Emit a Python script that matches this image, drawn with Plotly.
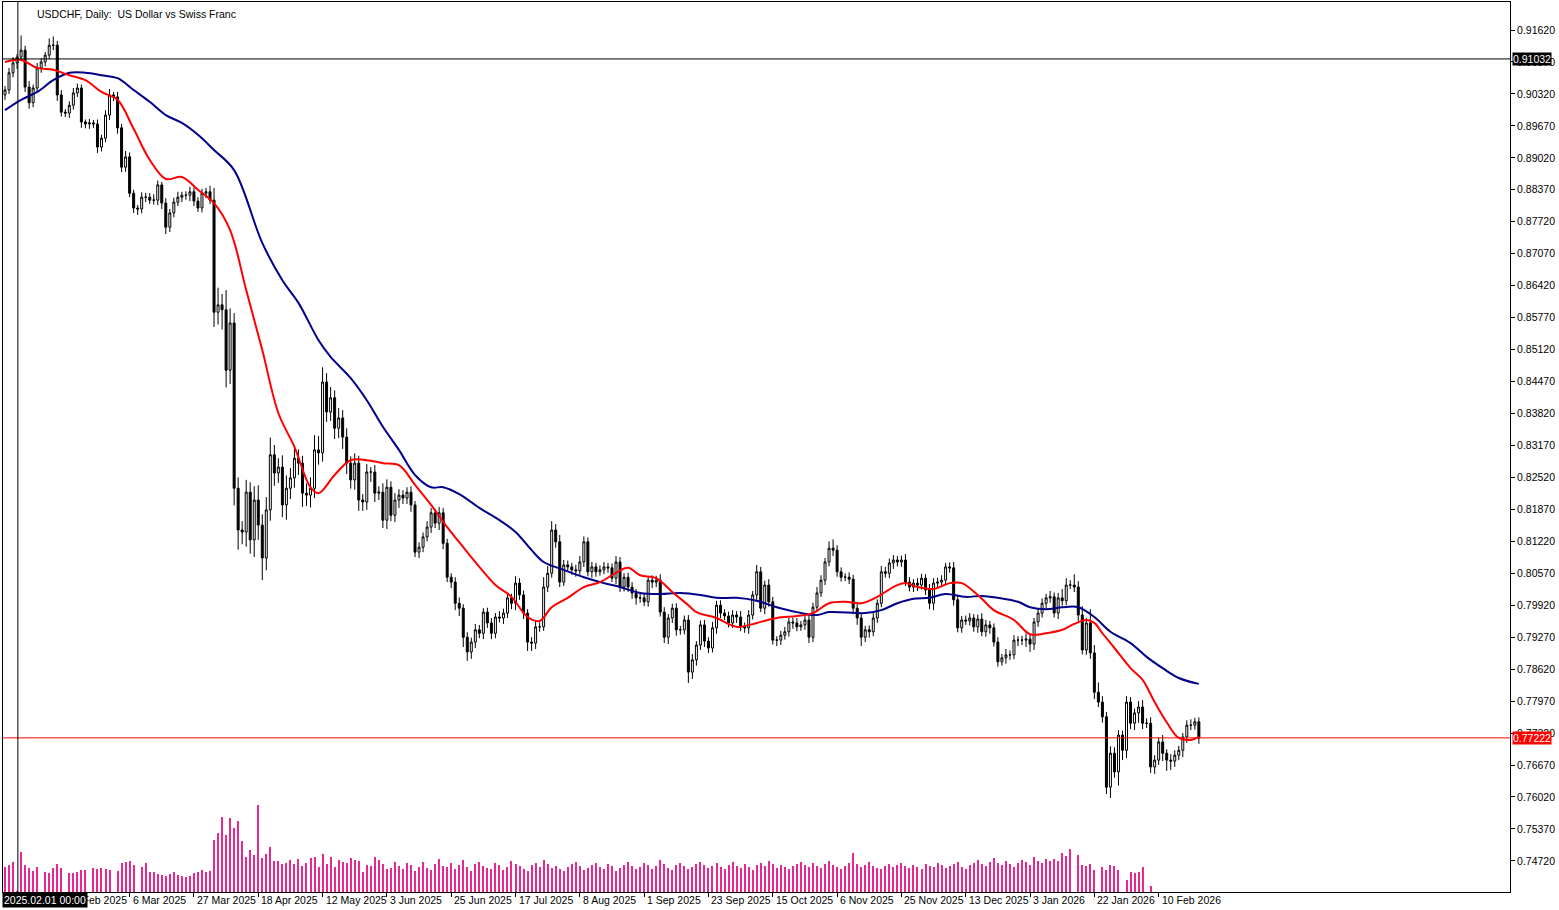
import plotly.graph_objects as go

close = [0.9040,0.9075,0.9095,0.9107,0.9121,0.9046,0.9014,0.9044,0.9085,0.9097,
0.9111,0.9131,0.9131,0.9030,0.8995,0.8993,0.9009,0.9034,0.9044,0.8975,
0.8971,0.8973,0.8971,0.8924,0.8942,0.8989,0.9030,0.9026,0.8963,0.8883,
0.8904,0.8830,0.8800,0.8798,0.8822,0.8822,0.8816,0.8816,0.8847,0.8810,
0.8761,0.8790,0.8812,0.8822,0.8826,0.8826,0.8833,0.8814,0.8800,0.8830,
0.8833,0.8816,0.8588,0.8603,0.8593,0.8470,0.8566,0.8230,0.8145,0.8141,
0.8222,0.8125,0.8206,0.8155,0.8088,0.8186,0.8298,0.8261,0.8273,0.8196,
0.8230,0.8251,0.8291,0.8281,0.8220,0.8216,0.8230,0.8308,0.8302,0.8446,
0.8385,0.8414,0.8352,0.8373,0.8334,0.8281,0.8247,0.8281,0.8206,0.8202,
0.8263,0.8263,0.8220,0.8222,0.8165,0.8232,0.8175,0.8206,0.8216,0.8210,
0.8222,0.8196,0.8100,0.8110,0.8131,0.8151,0.8180,0.8159,0.8180,0.8118,
0.8049,0.8039,0.7996,0.7986,0.7927,0.7897,0.7917,0.7942,0.7935,0.7978,
0.7956,0.7935,0.7968,0.7966,0.7976,0.8007,0.7996,0.8037,0.8013,0.7976,
0.7917,0.7915,0.7948,0.7948,0.8029,0.8057,0.8145,0.8121,0.8039,0.8074,
0.8070,0.8064,0.8062,0.8080,0.8121,0.8060,0.8070,0.8060,0.8064,0.8070,
0.8068,0.8047,0.8080,0.8029,0.8049,0.8029,0.8017,0.8007,0.8007,0.7999,
0.8043,0.8039,0.8043,0.7978,0.7927,0.7966,0.7986,0.7942,0.7942,0.7962,
0.7856,0.7881,0.7911,0.7952,0.7919,0.7905,0.7946,0.7992,0.7976,0.7970,
0.7956,0.7972,0.7968,0.7948,0.7946,0.7972,0.8013,0.8060,0.7986,0.8033,
0.7999,0.7921,0.7921,0.7931,0.7938,0.7958,0.7956,0.7948,0.7952,0.7962,
0.7927,0.7988,0.8017,0.8043,0.8080,0.8108,0.8104,0.8060,0.8049,0.8049,
0.8045,0.7986,0.7966,0.7927,0.7942,0.7938,0.7966,0.7996,0.8060,0.8057,
0.8078,0.8084,0.8080,0.8084,0.8039,0.8029,0.8037,0.8033,0.8047,0.8023,
0.7996,0.8037,0.8039,0.8043,0.8070,0.8068,0.8003,0.7946,0.7962,0.7960,
0.7966,0.7948,0.7964,0.7938,0.7952,0.7946,0.7917,0.7877,
0.7885,0.7891,0.7891,0.7921,0.7921,0.7921,0.7923,0.7913,0.7958,0.7976,
0.7996,0.8007,0.8009,0.7976,0.8007,0.8001,0.8033,0.8033,0.8029,0.7972,
0.7901,0.7956,0.7895,0.7815,0.7795,0.7765,0.7622,0.7691,0.7653,0.7728,
0.7697,0.7795,0.7752,0.7773,0.7785,0.7752,0.7752,0.7663,0.7677,0.7714,
0.7691,0.7677,0.7675,0.7687,0.7697,0.7724,0.7748,0.7748,0.7755,0.7722]
first_open = 0.9030

# wick lengths in pips (0.0001)
wick_up = [8,10,12,6,30,9,12,7,10,8,6,14,18,9,10,6,8,10,9,7,
5,8,6,9,7,10,12,6,10,8,12,9,7,6,10,9,8,12,9,6,
10,8,9,11,7,8,10,9,8,9,8,12,25,35,22,40,30,20,22,18,
25,20,28,30,22,26,35,20,18,24,26,20,22,18,15,20,22,30,28,30,
18,22,15,20,16,18,14,20,15,12,16,10,14,12,18,16,12,14,12,10,
10,12,8,10,9,12,10,8,12,10,9,8,10,12,8,10,9,12,10,8,
9,10,8,12,9,10,8,14,10,9,8,10,12,9,20,15,18,12,14,10,
9,8,10,12,11,9,10,8,9,10,8,9,12,10,8,9,10,8,9,10,
8,10,9,12,10,8,9,10,8,9,10,12,8,9,10,8,12,9,10,8,
9,10,8,12,9,10,8,14,10,9,12,10,8,9,10,8,9,10,8,12,
10,9,12,10,8,14,18,10,9,8,10,9,12,10,8,9,10,8,12,10,
9,10,8,9,12,10,8,10,9,8,12,10,9,10,8,9,12,10,8,9,
10,8,9,12,10,8,9,10,8,12,9,10,8,9,12,10,8,9,10,8,
12,9,10,18,14,10,22,12,18,10,28,16,20,12,10,14,12,10,9,12,
10,9,12,14,10,12,10,9,14,8,12,10,9,8,10,12,8,9,10,8]
wick_dn = [10,8,9,12,8,10,12,9,8,10,9,8,10,12,9,8,10,9,8,12,
9,10,8,12,9,8,10,9,12,10,9,8,10,12,9,10,8,9,10,12,
14,10,9,8,10,9,12,10,8,9,10,8,30,25,40,35,28,35,40,25,
30,28,35,30,45,25,22,26,20,25,30,22,20,24,28,22,25,20,24,18,
20,18,22,20,24,22,18,20,22,18,16,20,18,14,16,18,12,14,16,12,
12,14,10,12,10,9,12,10,14,12,10,12,14,16,20,18,14,12,10,12,
10,12,10,9,12,10,12,14,10,12,18,16,12,10,8,10,9,12,10,8,
9,10,12,8,10,9,12,10,8,9,10,8,12,10,9,10,12,14,10,9,
10,12,10,9,12,14,10,12,10,9,22,14,12,10,12,10,9,12,10,8,
9,10,12,9,10,12,9,10,8,12,10,9,12,10,9,10,12,9,8,10,
12,10,9,8,10,9,12,10,9,8,10,12,14,18,10,12,9,10,8,9,
10,12,9,10,8,9,10,12,9,10,12,14,10,9,8,10,12,9,10,8,
9,10,12,9,10,12,9,10,8,12,10,9,12,10,14,16,12,10,9,12,
10,9,12,10,9,8,10,12,9,10,12,14,10,12,14,22,12,28,20,16,
12,14,20,12,10,12,14,10,16,22,18,12,10,14,12,10,9,12,10,14]

volume = [26,28,31,1,41,28,25,22,26,0,20,19,25,29,25,0,19,19,21,23,
23,0,25,24,25,24,23,0,22,30,31,32,28,0,26,30,21,20,18,17,
16,18,21,17,16,15,16,19,20,23,20,22,53,60,77,58,76,66,73,52,
36,43,38,89,35,39,46,32,32,29,30,33,29,34,27,30,35,36,26,39,
29,36,26,33,31,30,35,33,32,21,28,27,36,33,29,24,25,31,
27,24,30,28,22,26,31,25,23,29,34,27,26,30,24,28,33,26,22,29,
31,27,25,24,30,28,23,26,32,29,27,24,22,28,30,26,33,29,25,27,
24,22,26,29,31,27,23,25,28,30,26,24,29,27,22,25,28,31,27,24,
26,30,28,24,27,33,29,25,23,28,30,27,24,26,29,31,28,25,27,30,
26,24,28,31,27,25,29,26,23,28,30,27,32,29,25,28,26,24,27,29,
31,28,26,30,27,25,29,32,28,26,24,27,30,40,29,26,28,31,27,25,
24,27,29,26,28,30,27,25,28,26,24,29,27,26,30,28,25,27,29,31,
26,24,28,30,33,29,27,31,35,30,28,32,29,26,30,33,31,28,36,32,
30,34,32,
34,32,40,37,44,0,38,28,27,29,23,0,26,23,28,27,23,0,12,21,19,21,26,0,6]

ma_fast_idx = [0,4,8,12,16,20,24,28,32,36,40,44,48,52,56,60,64,68,72,76,78,82,86,90,94,98,102,106,110,114,118,122,126,130,133,136,140,144,148,152,155,158,162,166,170,172,177,182,187,192,197,201,205,209,213,217,221,224,227,231,235,238,242,246,251,255,259,263,266,269,271,273,276,280,283,286,289,292,295,297]
ma_fast = [0.9097,0.9101,0.9085,0.9081,0.9070,0.9060,0.9036,0.9020,0.8961,0.8898,0.8859,0.8863,0.8837,0.8810,0.8755,0.8633,0.8511,0.8383,0.8314,0.8232,0.8220,0.8257,0.8287,0.8287,0.8281,0.8277,0.8237,0.8196,0.8151,0.8110,0.8070,0.8033,0.8009,0.7968,0.7960,0.7988,0.8007,0.8029,0.8039,0.8058,0.8068,0.8053,0.8047,0.8019,0.7992,0.7978,0.7966,0.7948,0.7956,0.7966,0.7970,0.7976,0.7996,0.7999,0.7996,0.8009,0.8029,0.8037,0.8029,0.8025,0.8037,0.8037,0.8013,0.7982,0.7962,0.7933,0.7935,0.7942,0.7954,0.7962,0.7956,0.7935,0.7905,0.7864,0.7840,0.7795,0.7754,0.7722,0.7718,0.7724]
ma_slow_idx = [0,4,8,12,16,20,24,28,32,36,40,44,48,52,57,64,69,73,78,81,86,90,94,98,102,106,109,113,118,123,127,131,134,139,144,149,153,158,163,168,173,177,182,187,192,197,202,205,214,218,222,226,230,234,239,243,247,252,255,259,263,267,271,275,280,284,288,292,297]
ma_slow = [0.8999,0.9020,0.9036,0.9060,0.9075,0.9075,0.9070,0.9064,0.9040,0.9016,0.8989,0.8973,0.8949,0.8918,0.8877,0.8729,0.8653,0.8607,0.8531,0.8497,0.8454,0.8409,0.8355,0.8308,0.8257,0.8232,0.8232,0.8218,0.8190,0.8165,0.8141,0.8104,0.8080,0.8064,0.8049,0.8037,0.8029,0.8017,0.8015,0.8017,0.8013,0.8007,0.8007,0.8001,0.7988,0.7978,0.7972,0.7978,0.7976,0.7982,0.7996,0.8005,0.8007,0.8015,0.8009,0.8011,0.8007,0.7999,0.7988,0.7984,0.7988,0.7988,0.7968,0.7938,0.7915,0.7887,0.7864,0.7844,0.7832]

x_tick_idx = [15,31,47,63,79,95,111,127,143,159,175,191,207,223,239,255,271,287]
x_tick_text = ["12 Feb 2025","6 Mar 2025","27 Mar 2025","18 Apr 2025","12 May 2025","3 Jun 2025",
               "25 Jun 2025","17 Jul 2025","8 Aug 2025","1 Sep 2025","23 Sep 2025","15 Oct 2025",
               "6 Nov 2025","25 Nov 2025","13 Dec 2025","3 Jan 2026","22 Jan 2026","10 Feb 2026"]
y_ticks = [0.9162,0.9097,0.9032,0.8967,0.8902,0.8837,0.8772,0.8707,0.8642,0.8577,0.8512,0.8447,
           0.8382,0.8317,0.8252,0.8187,0.8122,0.8057,0.7992,0.7927,0.7862,0.7797,0.7732,0.7667,
           0.7602,0.7537,0.7472]
level_black = 0.91032
level_bid = 0.77222
cursor_idx = 3.2

N = len(close)
idx = list(range(N))
opens = [first_open] + close[:-1]
highs = [max(o, c) + wick_up[i] * 0.0001 for i, (o, c) in enumerate(zip(opens, close))]
lows = [min(o, c) - wick_dn[i] * 0.0001 for i, (o, c) in enumerate(zip(opens, close))]

F = "Liberation Sans"
FS = 10.5
fig = go.Figure()
fig.add_trace(go.Bar(x=idx, y=volume[:N], yaxis="y2", marker=dict(color="#e8268c", line_width=0),
                     width=0.25, showlegend=False, hoverinfo="skip"))
fig.add_trace(go.Candlestick(x=idx, open=opens, high=highs, low=lows, close=close,
                             increasing=dict(fillcolor="white", line=dict(color="black", width=1)),
                             decreasing=dict(fillcolor="black", line=dict(color="black", width=1)),
                             whiskerwidth=0, showlegend=False))
fig.add_trace(go.Scatter(x=ma_slow_idx, y=ma_slow, mode="lines", line=dict(color="#00008b", width=2, shape="spline"), showlegend=False))
fig.add_trace(go.Scatter(x=ma_fast_idx, y=ma_fast, mode="lines", line=dict(color="#ff0000", width=2, shape="spline"), showlegend=False))

ymin, ymax = 0.74087, 0.92190
fig.update_layout(
    width=1559, height=910, margin=dict(l=3, r=49, t=2, b=18, autoexpand=False),
    paper_bgcolor="white", plot_bgcolor="white",
    font=dict(family=F, size=FS, color="black"),
    xaxis=dict(range=[-0.5, 374.4], showgrid=False, zeroline=False, rangeslider=dict(visible=False),
               showticklabels=False, tickvals=x_tick_idx, ticks="outside", ticklen=4, tickcolor="black",
               showline=True, linecolor="black", mirror=True, automargin=False),
    yaxis=dict(range=[ymin, ymax], side="right", tickvals=y_ticks, tickformat=".5f", showgrid=False,
               zeroline=False, ticks="outside", ticklen=4, tickcolor="black", showline=True,
               linecolor="black", mirror=True, tickfont=dict(size=FS, family=F), automargin=False),
    yaxis2=dict(range=[0, 912], overlaying="y", visible=False),
    bargap=0,
)
for t, s in zip(x_tick_idx, x_tick_text):
    fig.add_annotation(x=t, y=0, xref="x", yref="paper", yanchor="top", xanchor="left", xshift=1,
                       text=s, showarrow=False, font=dict(size=FS, family=F))
fig.add_shape(type="line", xref="paper", x0=0, x1=1, y0=level_black, y1=level_black, line=dict(color="black", width=1))
fig.add_shape(type="line", xref="paper", x0=0, x1=1, y0=level_bid, y1=level_bid, line=dict(color="red", width=1))
fig.add_shape(type="line", yref="paper", x0=cursor_idx, x1=cursor_idx, y0=0, y1=1, line=dict(color="black", width=1))
fig.add_annotation(xref="paper", x=1, xanchor="left", xshift=2, y=level_black, text=f"{level_black:.5f}",
                   showarrow=False, bgcolor="black", font=dict(color="white", size=FS, family=F), borderpad=0)
fig.add_annotation(xref="paper", x=1, xanchor="left", xshift=2, y=level_bid, text=f"{level_bid:.5f}",
                   showarrow=False, bgcolor="#ff0000", font=dict(color="white", size=FS, family=F), borderpad=0)
fig.add_annotation(xref="paper", x=0, y=0, yref="paper", yanchor="top", xanchor="left", xshift=-1,
                   text="2025.02.01 00:00", showarrow=False, bgcolor="black",
                   font=dict(color="white", size=FS, family=F), borderpad=1)
fig.add_annotation(xref="paper", yref="paper", x=0, y=1, xshift=32, yshift=-4, xanchor="left", yanchor="top",
                   text="USDCHF, Daily:  US Dollar vs Swiss Franc", showarrow=False, font=dict(size=FS, family=F))
fig.write_html("out.html", config={"displayModeBar": False})
with open("out.html", encoding="utf-8") as fh:
    html = fh.read()
html = html.replace("<head>", "<head><style>html,body{margin:0;padding:0;overflow:hidden;}</style>", 1)
with open("out.html", "w", encoding="utf-8") as fh:
    fh.write(html)
